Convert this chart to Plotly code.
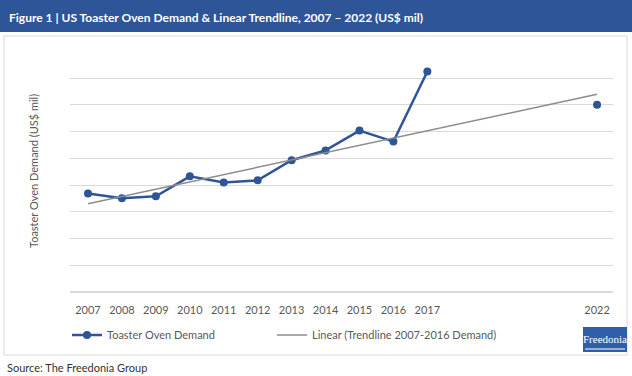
import plotly.graph_objects as go

years = [2007, 2008, 2009, 2010, 2011, 2012, 2013, 2014, 2015, 2016, 2017]
demand = [3.69, 3.51, 3.58, 4.33, 4.10, 4.18, 4.93, 5.30, 6.04, 5.63, 8.25]
forecast_year = [2022]
forecast_value = [7.01]
trend_years = [2007, 2022]
trend_values = [3.30, 7.40]
tick_years = [2007, 2008, 2009, 2010, 2011, 2012, 2013, 2014, 2015, 2016, 2017, 2022]

W, H = 632, 376
L, R, T, B = 70, 19, 51, 84
pw, ph = W - L - R, H - T - B

def px(x):
    return (x - L) / pw

def py(y):
    return (H - B - y) / ph

BLUE = "#2E5597"
FONT = "Lato"

fig = go.Figure()
fig.add_trace(go.Scatter(
    x=years, y=demand, mode="lines+markers", name="Toaster Oven Demand",
    line=dict(color=BLUE, width=2.5), marker=dict(color=BLUE, size=8), legend="legend",
))
fig.add_trace(go.Scatter(
    x=forecast_year, y=forecast_value, mode="markers", showlegend=False,
    marker=dict(color=BLUE, size=8),
))
fig.add_trace(go.Scatter(
    x=trend_years, y=trend_values, mode="lines", name="Linear (Trendline 2007-2016 Demand)",
    line=dict(color="#8c8c8c", width=1.5), legend="legend2",
))

shapes = [
    dict(type="rect", xref="paper", yref="paper", x0=px(0), x1=px(W), y0=py(0), y1=py(32),
         fillcolor=BLUE, line=dict(width=0), layer="below"),
    dict(type="rect", xref="paper", yref="paper", x0=px(4), x1=px(627), y0=py(36), y1=py(355),
         fillcolor="rgba(0,0,0,0)", line=dict(color="#d9d9d9", width=1), layer="below"),
    dict(type="rect", xref="paper", yref="paper", x0=px(583), x1=px(627), y0=py(327), y1=py(352),
         fillcolor="#2F5FA8", line=dict(width=0)),
    dict(type="line", xref="paper", yref="paper", x0=px(585), x1=px(625), y0=py(349), y1=py(349),
         line=dict(color="white", width=1)),
]

annotations = [
    dict(text="<b>Figure 1 | US Toaster Oven Demand &amp; Linear Trendline, 2007 – 2022 (US$ mil)</b>",
         xref="paper", yref="paper", x=px(7), y=py(17), xanchor="left", yanchor="middle",
         showarrow=False, font=dict(family=FONT, size=12, color="white")),
    dict(text="Toaster Oven Demand (US$ mil)", xref="paper", yref="paper", x=px(33), y=py(171),
         xanchor="center", yanchor="middle", textangle=-90, showarrow=False,
         font=dict(family=FONT, size=11, color="#595959")),
    dict(text="Source: The Freedonia Group", xref="paper", yref="paper", x=px(5), y=py(367),
         xanchor="left", yanchor="middle", showarrow=False,
         font=dict(family=FONT, size=11, color="#333333")),
    dict(text="Freedonia", xref="paper", yref="paper", x=px(605), y=py(339),
         xanchor="center", yanchor="middle", showarrow=False,
         font=dict(family="Liberation Serif", size=11, color="white")),
]

legend_style = dict(orientation="h", xanchor="left", yanchor="middle", y=py(335),
                    font=dict(size=11, color="#595959"), bgcolor="rgba(0,0,0,0)", itemwidth=30)

fig.update_layout(
    width=W, height=H, margin=dict(l=L, r=R, t=T, b=B),
    paper_bgcolor="white", plot_bgcolor="white",
    font=dict(family=FONT, size=11, color="#595959"),
    xaxis=dict(range=[2006.47, 2022.47], tickmode="array", tickvals=tick_years,
               ticktext=[str(y) for y in tick_years], showgrid=False, zeroline=False,
               showline=False, ticks="outside", ticklen=8, tickcolor="rgba(0,0,0,0)",
               tickfont=dict(size=11, color="#595959")),
    yaxis=dict(range=[0, 9.02], tickvals=list(range(10)), showticklabels=False, showgrid=True,
               gridcolor="#d9d9d9", gridwidth=1, zeroline=True, zerolinecolor="#d9d9d9",
               showline=False, ticks=""),
    legend=dict(x=px(67), **legend_style),
    legend2=dict(x=px(272), **legend_style),
    shapes=shapes, annotations=annotations,
)

fig.write_html("out.html", config={"displayModeBar": False},
               post_script="document.body.style.margin='0px';document.body.style.padding='0px';")
